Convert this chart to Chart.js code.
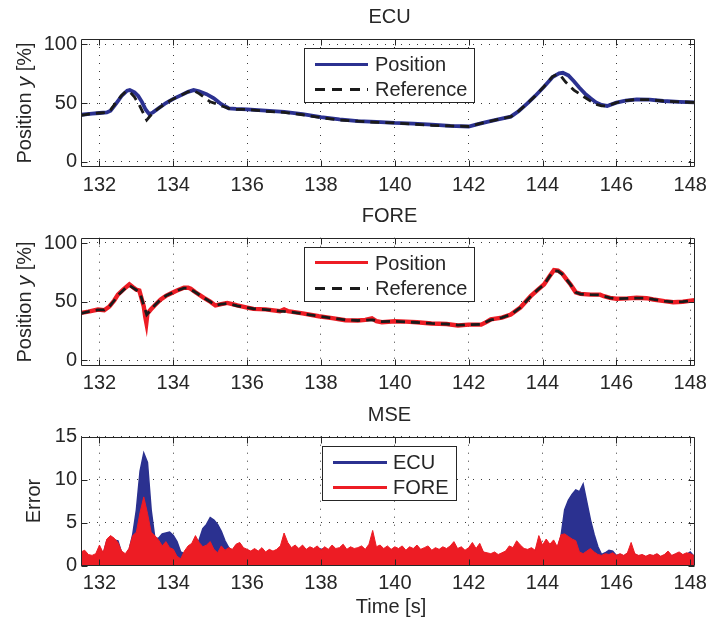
<!DOCTYPE html>
<html><head><meta charset="utf-8">
<script src="https://cdn.jsdelivr.net/npm/chart.js@4.4.1/dist/chart.umd.min.js"></script>
<style>
html,body{margin:0;padding:0;background:#fff;width:713px;height:623px;overflow:hidden;font-family:"Liberation Sans",Arial,Helvetica,sans-serif;color:#262626;}
canvas{position:absolute;left:0;}
.t{position:absolute;font-size:20px;line-height:20px;white-space:nowrap;}
.c{transform:translate(-50%,-50%);}
.r{transform:translate(-50%,-50%) rotate(-90deg);}
.l{transform:translateY(-50%);}
.box{position:absolute;border:1px solid #262626;background:#fff;box-sizing:border-box;}
.ln{position:absolute;height:3px;}
</style></head>
<body>
<canvas id="c1" width="713" height="200" style="top:0px"></canvas>
<canvas id="c2" width="713" height="200" style="top:200px"></canvas>
<canvas id="c3" width="713" height="223" style="top:400px"></canvas>

<div class="t c" style="left:389.5px;top:16px">ECU</div>
<div class="t c" style="left:389.5px;top:214.5px">FORE</div>
<div class="t c" style="left:389.5px;top:414px">MSE</div>
<div class="t r" style="left:24px;top:103px">Position <i>y</i> [%]</div>
<div class="t r" style="left:24px;top:302px">Position <i>y</i> [%]</div>
<div class="t r" style="left:33px;top:500.5px">Error</div>
<div class="t c" style="left:391px;top:606px">Time [s]</div>

<div class="box" style="left:304px;top:48px;width:171px;height:55px"></div>
<div class="ln" style="left:315px;top:62.5px;width:53px;background:#2b3190"></div>
<div class="ln" style="left:315px;top:87.5px;width:53px;background:repeating-linear-gradient(90deg,#1a1a1a 0 10px,transparent 10px 17.5px)"></div>
<div class="t l" style="left:375px;top:64px">Position</div>
<div class="t l" style="left:375px;top:89px">Reference</div>

<div class="box" style="left:304px;top:246.7px;width:171px;height:55px"></div>
<div class="ln" style="left:315px;top:261px;width:53px;background:#ed1c24"></div>
<div class="ln" style="left:315px;top:286.5px;width:53px;background:repeating-linear-gradient(90deg,#1a1a1a 0 10px,transparent 10px 17.5px)"></div>
<div class="t l" style="left:375px;top:262.5px">Position</div>
<div class="t l" style="left:375px;top:288px">Reference</div>

<div class="box" style="left:322px;top:445.7px;width:134.7px;height:55px"></div>
<div class="ln" style="left:333px;top:460.5px;width:54px;background:#2b3190"></div>
<div class="ln" style="left:333px;top:485.5px;width:54px;background:#ed1c24"></div>
<div class="t l" style="left:393px;top:462px">ECU</div>
<div class="t l" style="left:393px;top:487px">FORE</div>

<script>
// ---------- data ----------
const xTickValues = [132,134,136,138,140,142,144,146,148];
const posTickValues = [0,50,100];
const errTickValues = [0,5,10,15];

const ecuTime = [131.5,131.8,132.0,132.2,132.3,132.45,132.6,132.75,132.82,132.95,133.05,133.15,133.25,133.35,133.45,133.6,133.8,134.0,134.2,134.4,134.55,134.7,134.9,135.1,135.3,135.5,135.7,136.0,136.5,137.0,137.5,138.0,138.5,139.0,139.5,140.0,140.5,141.0,141.5,142.0,142.25,142.5,142.8,143.14,143.35,143.59,143.8,144.04,144.27,144.45,144.55,144.7,144.85,145.0,145.15,145.3,145.45,145.6,145.75,146.0,146.25,146.55,146.9,147.27,147.7,148.12];
const ecuPosition = [40,41,41.5,42,43.5,49.5,56,60.5,61,59,56,51,44.5,40.5,42,45.5,50,53.5,56.5,59.5,61,60,57.5,54,49,45.5,45,44.5,43.5,42.5,40.5,38,36,34.5,34,33,32.5,31.5,30.5,30,32,34,36,38.4,43,49.7,56,63.8,72,75.2,75.7,73.5,68.5,63,58,54,50.5,48.3,47.5,50.3,52,53,52.8,51.7,51,50.6];

const ecuRefTime = [131.5,131.8,132.0,132.2,132.3,132.45,132.6,132.72,132.82,132.95,133.1,133.2,133.28,133.36,133.45,133.6,133.8,134.0,134.2,134.4,134.55,134.7,134.85,135.0,135.15,135.35,135.5,135.7,136.0,136.5,137.0,137.5,138.0,138.5,139.0,139.5,140.0,140.5,141.0,141.5,142.0,142.25,142.5,142.8,143.14,143.35,143.59,143.8,144.04,144.27,144.4,144.5,144.62,144.85,145.12,145.43,145.6,145.75,146.0,146.25,146.55,146.9,147.27,147.7,148.12];
const ecuReference = [39.5,41,41.5,42,44,50.5,56.5,60,59.5,55,47,40.5,35.5,38.5,41.5,45.5,50,53.5,56.5,59.5,60.5,58,54.5,51,49.5,47,45.5,44.5,44.5,43,42,40,37.5,35.5,34.5,33.5,33,32,31,30.5,30,32,34,36,38.4,43,49.7,56,64,72.5,74.6,73,68,61,55.3,49,47.5,47.5,50.3,52,53,52.8,51.7,51,50.6];

const foreTime = [131.5,131.7,131.96,132.13,132.27,132.4,132.5,132.65,132.81,132.9,132.99,133.08,133.12,133.2,133.24,133.27,133.3,133.39,133.5,133.66,133.8,133.93,134.1,134.29,134.4,134.47,134.6,134.83,135.0,135.14,135.3,135.46,135.6,135.73,136.0,136.17,136.5,136.89,137.0,137.1,137.5,137.94,138.3,138.66,139.0,139.2,139.38,139.5,139.65,140.0,140.3,140.6,140.99,141.4,141.71,142.0,142.34,142.5,142.6,142.9,143.14,143.4,143.68,143.9,144.04,144.2,144.31,144.42,144.53,144.65,144.76,144.9,145.03,145.3,145.56,145.66,145.83,146.0,146.3,146.55,146.82,147.0,147.3,147.54,147.8,148.12];
const forePosition = [40.5,41.5,43.3,42.7,46,51,56,60.5,64.7,62.5,60.4,59.5,55,46,37,32,40,43.3,47,52,55,57,59.5,61.9,62,61,58,53.3,50,46.8,48,49,48,46.8,45,43.9,43.5,41.9,43.5,42,40,37.6,36,34.2,34,34.5,35.8,33.5,32.5,33.3,33,32.5,31.4,31,29.7,30.5,30.5,33,35,36.5,39,45,54.7,61,64.7,72,76.9,76.5,74,69,64.7,58,56.7,56,56,54.7,53.3,52.5,52.8,53.3,53,51.9,50.5,49.6,50,51.3];

const foreRefTime = [131.5,131.7,131.96,132.13,132.27,132.4,132.5,132.65,132.8,132.9,133.0,133.1,133.2,133.28,133.39,133.5,133.66,133.8,133.93,134.1,134.29,134.4,134.47,134.6,134.83,135.0,135.14,135.3,135.46,135.6,135.73,136.0,136.17,136.5,136.89,137.1,137.5,137.94,138.3,138.66,139.0,139.4,139.65,140.0,140.5,141.0,141.4,141.71,142.0,142.34,142.6,142.9,143.14,143.4,143.68,143.9,144.04,144.2,144.31,144.42,144.53,144.65,144.76,144.9,145.03,145.3,145.56,145.66,145.83,146.0,146.3,146.55,146.82,147.0,147.3,147.54,147.8,148.12];
const foreReference = [40,41.5,43,43,46,51,55.5,60,64,62,60,57,47,39,43,47,52,55,57,59.5,61.5,61.5,60.5,58,53.3,50,47,48,48.5,47.5,46.5,45,44,43.3,42,41.5,39.8,37.6,36,34.5,34,34.5,33,33.3,32.5,31.5,31,30,30.5,30.8,34.5,36.5,39,45,54.5,61,64.5,72,76.5,76,73.5,69,64.5,58,56.5,56,55.8,54.7,53.3,52.5,52.8,53,53,52,50.5,49.8,50,51.2];

// MSE sampled every 0.1 s starting at 131.5 s
const mseStart = 131.5;
const mseStep = 0.1;
const ecuMse = [
  1.4,1.6,1.1,1.0,1.2,
  2.0,1.3,2.9,3.3,3.0,2.9,1.5,1.2,1.8,3.6,
  6.5,11.0,13.1,12.0,6.5,3.2,3.2,3.7,3.8,3.9,
  3.5,2.8,1.6,1.4,1.9,2.2,2.4,3.0,4.3,4.8,
  5.6,5.3,4.8,4.0,2.9,2.1,1.7,2.3,2.5,1.9,
  1.7,1.5,1.8,1.5,1.9,1.4,1.7,1.5,1.7,2.1,
  2.6,2.5,1.9,2.2,1.8,2.2,1.7,2.0,1.8,2.1,
  1.9,2.0,1.7,2.2,1.8,1.9,2.3,1.7,2.0,1.8,
  1.9,2.1,1.7,2.3,2.6,2.0,2.2,1.8,2.1,1.7,
  2.0,1.8,2.1,1.6,2.0,1.8,2.2,1.7,1.9,2.1,
  1.6,1.9,1.7,2.0,1.8,2.1,2.4,1.8,2.0,1.6,
  1.9,2.3,1.8,2.2,1.5,1.3,1.2,1.4,1.1,1.3,
  1.5,2.0,1.9,2.5,2.2,1.8,1.7,1.9,1.6,2.8,
  2.2,2.6,2.3,2.6,2.0,3.4,6.5,7.6,8.3,8.8,
  8.6,9.5,7.4,5.3,3.6,2.2,1.3,1.5,1.8,1.7,
  1.2,1.3,1.1,1.4,2.0,1.3,1.1,1.2,1.0,1.2,
  1.1,1.3,1.0,1.2,1.4,1.1,1.3,1.4,1.2,1.3,
  1.6,1.1];
const foreMse = [
  1.6,1.8,1.3,1.2,1.4,
  2.4,1.5,3.1,3.5,3.2,2.7,1.7,1.4,2.0,3.5,
  3.9,6.2,8.0,6.1,3.9,3.5,3.0,2.3,2.8,2.1,
  1.9,1.1,0.8,1.7,2.3,2.6,3.5,2.7,2.2,2.4,
  2.8,1.9,1.5,2.3,1.8,2.1,1.9,2.5,2.7,2.1,
  1.9,1.7,2.0,1.7,2.1,1.6,1.9,1.7,1.9,2.3,
  3.8,2.7,2.1,2.4,2.0,2.4,1.9,2.2,2.0,2.3,
  1.8,2.2,1.9,2.4,2.0,2.1,2.5,1.9,2.2,2.0,
  2.1,2.3,1.9,2.5,4.1,2.2,2.4,2.0,2.3,1.9,
  2.2,2.0,2.3,1.8,2.2,2.0,2.4,1.9,2.1,2.3,
  1.8,2.1,1.9,2.2,2.0,2.3,2.8,2.0,2.2,1.8,
  2.1,2.7,2.0,2.6,1.6,1.5,1.4,1.6,1.3,1.5,
  1.7,2.3,2.1,2.9,2.4,2.0,1.9,2.1,1.8,3.5,
  2.4,3.1,2.5,3.0,2.2,3.6,3.7,3.4,3.1,2.9,
  1.6,1.4,1.7,2.0,1.6,1.3,1.2,1.4,1.3,1.5,
  1.2,1.4,1.2,1.5,2.7,1.4,1.2,1.3,1.1,1.3,
  1.2,1.4,1.1,1.3,1.7,1.2,1.4,1.6,1.3,1.5,
  1.4,1.2];

// ---------- helpers ----------
const BLUE = '#2b3190', RED = '#ed1c24', BLACK = '#1a1a1a', AX = '#262626';
const FONT = '"Liberation Sans", Arial, Helvetica, sans-serif';
const xy = (ts, vs) => ts.map((t, i) => ({x: t, y: vs[i]}));
const mseXY = vs => vs.map((v, i) => ({x: +(mseStart + i * mseStep).toFixed(2), y: v}));

const frame = {
  id: 'frame',
  afterDatasetsDraw(chart) {
    const {ctx, chartArea: a, scales: {x, y}} = chart;
    const L = Math.round(a.left) + 0.5, R = Math.round(a.right) - 0.5;
    const T = Math.round(a.top) + 0.5, B = Math.round(a.bottom) - 0.5;
    ctx.save();
    ctx.strokeStyle = AX; ctx.lineWidth = 1; ctx.setLineDash([]);
    ctx.beginPath();
    ctx.rect(L, T, R - L, B - T);
    x.ticks.forEach(t => {
      const p = Math.round(x.getPixelForValue(t.value)) + 0.5;
      ctx.moveTo(p, B); ctx.lineTo(p, B - 6);
      ctx.moveTo(p, T); ctx.lineTo(p, T + 6);
    });
    y.ticks.forEach(t => {
      const p = Math.round(y.getPixelForValue(t.value)) + 0.5;
      ctx.moveTo(L, p); ctx.lineTo(L + 6, p);
      ctx.moveTo(R, p); ctx.lineTo(R - 6, p);
    });
    ctx.stroke();
    ctx.restore();
  }
};

function makeChart(id, datasets, yMin, yMax, yTicks, padTop, xHeight) {
  return new Chart(document.getElementById(id), {
    type: 'line',
    data: {datasets},
    options: {
      responsive: false, animation: false, devicePixelRatio: 1,
      layout: {padding: {left: 0, right: 15, top: padTop, bottom: 0}},
      plugins: {legend: {display: false}, title: {display: false}, tooltip: {enabled: false}},
      elements: {point: {radius: 0}, line: {tension: 0}},
      scales: {
        x: {
          type: 'linear', min: 131.5, max: 148.12,
          afterBuildTicks: s => { s.ticks = xTickValues.map(v => ({value: v})); },
          afterFit: s => { s.height = xHeight; },
          grid: {color: '#3a3a3a', lineWidth: 1, drawTicks: false},
          border: {display: false, dash: [1, 7]},
          ticks: {color: AX, font: {family: FONT, size: 20}, padding: 6, maxRotation: 0, autoSkip: false,
                  callback: v => String(v)}
        },
        y: {
          type: 'linear', min: yMin, max: yMax,
          afterBuildTicks: s => { s.ticks = yTicks.map(v => ({value: v})); },
          afterFit: s => { s.width = 81; },
          grid: {color: '#3a3a3a', lineWidth: 1, drawTicks: false},
          border: {display: false, dash: [1, 7]},
          ticks: {color: AX, font: {family: FONT, size: 20}, padding: 4, callback: v => String(v)}
        }
      }
    },
    plugins: [frame]
  });
}

makeChart('c1', [
  {label: 'Reference', data: xy(ecuRefTime, ecuReference), borderColor: BLACK, borderWidth: 2.8, borderDash: [9, 6], order: 0},
  {label: 'Position', data: xy(ecuTime, ecuPosition), borderColor: BLUE, borderWidth: 3.8, order: 1}
], -4.5, 104.5, posTickValues, 39, 33);

makeChart('c2', [
  {label: 'Reference', data: xy(foreRefTime, foreReference), borderColor: BLACK, borderWidth: 2.8, borderDash: [9, 6], order: 0},
  {label: 'Position', data: xy(foreTime, forePosition), borderColor: RED, borderWidth: 4.4, order: 1}
], -4.5, 104.5, posTickValues, 37.7, 34.3);

makeChart('c3', [
  {label: 'FORE', data: mseXY(foreMse), borderColor: RED, backgroundColor: RED, borderWidth: 1, fill: 'origin', order: 0},
  {label: 'ECU', data: mseXY(ecuMse), borderColor: BLUE, backgroundColor: BLUE, borderWidth: 1.5, fill: 'origin', order: 1}
], 0, 15, errTickValues, 36.7, 57.3);
</script>
</body></html>
